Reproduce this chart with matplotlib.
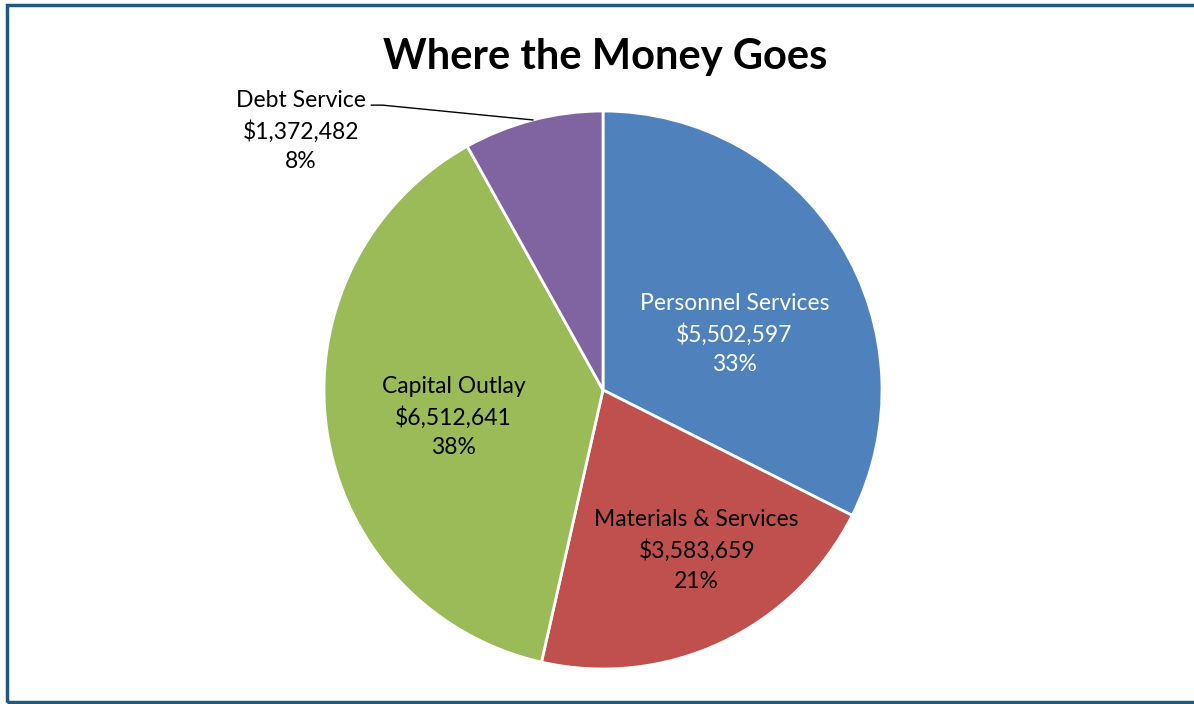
import matplotlib.pyplot as plt
import numpy as np
from matplotlib.patches import Rectangle

# === DATA ===
categories = ["Personnel Services", "Materials & Services", "Capital Outlay", "Debt Service"]
amounts = [5502597, 3583659, 6512641, 1372482]
pct_labels = ["33%", "21%", "38%", "8%"]
colors = ["#4F81BD", "#C0504D", "#9BBB59", "#8064A2"]
text_colors = ["white", "black", "black", "black"]

# label centres, in units of the pie radius
label_pos = [(0.471, 0.20), (0.336, -0.575), (-0.536, -0.096), (-1.082, 0.929)]

W, H = 1194, 704
CX, CY, R = 603, 390, 279  # pie centre / radius in pixels

plt.rcParams['font.family'] = ['Lato', 'DejaVu Sans']

fig = plt.figure(figsize=(W / 100, H / 100), dpi=100)
ax = fig.add_axes([0, 0, 1, 1])

wedges, _ = ax.pie(amounts, colors=colors, startangle=90, counterclock=False,
                   wedgeprops=dict(edgecolor="white", linewidth=2))

ax.set_xlim(-CX / R, (W - CX) / R)
ax.set_ylim(-(H - CY) / R, CY / R)
ax.set_aspect('equal')
ax.axis('off')

for name, amt, pct, (lx, ly), tc in zip(categories, amounts, pct_labels, label_pos, text_colors):
    ax.text(lx, ly, f"{name}\n${amt:,}\n{pct}", ha="center", va="center",
            fontsize=16.5, color=tc, linespacing=1.5)

# leader line for Debt Service
w = wedges[3]
mid = np.deg2rad((w.theta1 + w.theta2) / 2)
ex, ey = np.cos(mid), np.sin(mid)
ax.plot([-0.83, -0.79, ex], [1.021, 1.021, ey], color="black", linewidth=1)

fig.text(605 / W, 1 - 57 / H, "Where the Money Goes", ha="center", va="center",
         fontsize=30, fontweight="bold")

# frame
fig.add_artist(Rectangle((6.5 / W, 2 / H), 1.2, 1 - 7 / H, transform=fig.transFigure,
                         fill=False, edgecolor="#1F5A7E", linewidth=2.5))

fig.savefig("out.png", dpi=100)
